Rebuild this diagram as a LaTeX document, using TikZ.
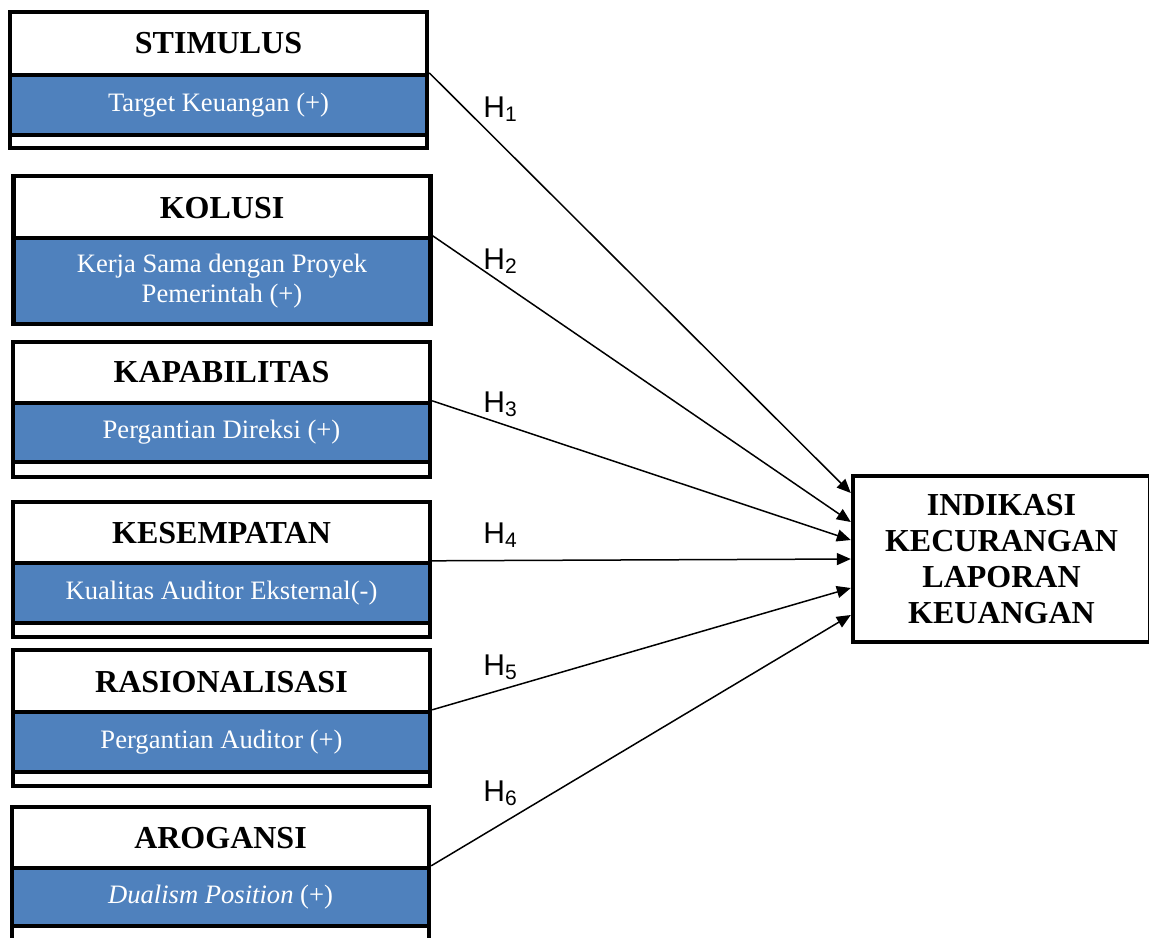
\documentclass[tikz,border=0pt]{standalone}
\usepackage{fontspec}
\setmainfont{Liberation Serif}
\newfontfamily\arial{Liberation Sans}
\usepackage{tikz}
\usetikzlibrary{arrows.meta}
\definecolor{biru}{HTML}{4F81BD}
\tikzset{
    kotak/.style={draw, line width=2.2pt, fill=white, minimum width=208.5pt, inner sep=0pt},
    isi/.style={draw, line width=2.2pt, fill=biru, text=white, minimum width=208.5pt,
        inner sep=0pt, align=center, font=\fontsize{13.3}{15}\selectfont},
    judul/.style={inner sep=0pt, font=\fontsize{16}{19}\selectfont\bfseries},
    panah/.style={-{Triangle[length=7pt,width=6pt]}, line width=0.75pt},
    hip/.style={anchor=base west, inner sep=0pt, font=\arial\fontsize{15}{18}\selectfont}
}

\begin{document}
\begin{tikzpicture}[x=0.5pt, y=-0.5pt]
        \clip (0,0) rectangle (1149,937);
        % Stimulus
        \node[kotak, minimum height=68pt] (k1) at (218.5,80) {};
        \node[isi, minimum height=30pt] (v1) at (218.5,105) {Target Keuangan (+)};
        \node[judul] (j1) at (218.5,43.5) {STIMULUS};
        % Kolusi
        \node[kotak, minimum height=74pt] (k2) at (222,250) {};
        \node[isi, minimum height=43pt] (v2) at (222,281) {Kerja Sama dengan Proyek\\Pemerintah (+)};
        \node[judul] (j2) at (222,208) {KOLUSI};
        % Kapabilitas
        \node[kotak, minimum height=67.5pt] (k3) at (221.5,409.5) {};
        \node[isi, minimum height=29.5pt] (v3) at (221.5,432.5) {Pergantian Direksi (+)};
        \node[judul] (j3) at (221.5,372.5) {KAPABILITAS};
        % Kesempatan
        \node[kotak, minimum height=67.5pt] (k4) at (221.5,569.5) {};
        \node[isi, minimum height=30pt] (v4) at (221.5,593) {Kualitas Auditor Eksternal(-)};
        \node[judul] (j4) at (221.5,533) {KESEMPATAN};
        % Rasionalisasi
        \node[kotak, minimum height=68pt] (k5) at (221.5,718) {};
        \node[isi, minimum height=30pt] (v5) at (221.5,742) {Pergantian Auditor (+)};
        \node[judul] (j5) at (221.5,682) {RASIONALISASI};
        % Arogansi
        \node[kotak, minimum height=67.5pt] (k6) at (220.5,874.5) {};
        \node[isi, minimum height=29pt] (v6) at (220.5,897) {\textit{Dualism Position} (+)};
        \node[judul] (j6) at (220.5,838.5) {AROGANSI};
        % Variabel dependen
        \node[kotak, minimum width=148.5pt, minimum height=83pt, align=center,
            font=\fontsize{16}{18}\selectfont\bfseries] (hasil) at (1001.5,559)
        {INDIKASI\\KECURANGAN\\LAPORAN\\KEUANGAN};
        % Hipotesis
        \draw[panah] (v1.north east) -- ([yshift=33pt]hasil.west);
        \draw[panah] (v2.north east) -- ([yshift=18.5pt]hasil.west);
        \draw[panah] (v3.north east) -- ([yshift=9.5pt]hasil.west);
        \draw[panah] (v4.north east) -- (hasil.west);
        \draw[panah] (v5.north east) -- ([yshift=-14.5pt]hasil.west);
        \draw[panah] (v6.north east) -- ([yshift=-28pt]hasil.west);
        \node[hip] (h1) at (483,117) {H\textsubscript{1}};
        \node[hip] (h2) at (483,269) {H\textsubscript{2}};
        \node[hip] (h3) at (483,412) {H\textsubscript{3}};
        \node[hip] (h4) at (483,543) {H\textsubscript{4}};
        \node[hip] (h5) at (483,675) {H\textsubscript{5}};
        \node[hip] (h6) at (483,801) {H\textsubscript{6}};
    \end{tikzpicture}
\end{document}
